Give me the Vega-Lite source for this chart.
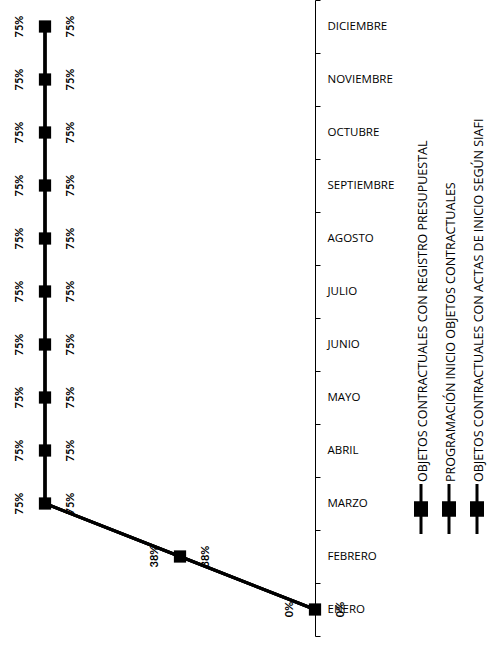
{
  "$schema": "https://vega.github.io/schema/vega-lite/v6.json",
  "width": 315,
  "height": 636,
  "autosize": "none",
  "padding": {"left": 0, "top": 0, "right": 172, "bottom": 10},
  "background": "white",
  "config": {"view": {"stroke": null}, "font": "Lato"},
  "data": {"values": [
    {"mes": "ENERO", "serie": "A", "valor": 0},
    {"mes": "FEBRERO", "serie": "A", "valor": 0.375},
    {"mes": "MARZO", "serie": "A", "valor": 0.75},
    {"mes": "ABRIL", "serie": "A", "valor": 0.75},
    {"mes": "MAYO", "serie": "A", "valor": 0.75},
    {"mes": "JUNIO", "serie": "A", "valor": 0.75},
    {"mes": "JULIO", "serie": "A", "valor": 0.75},
    {"mes": "AGOSTO", "serie": "A", "valor": 0.75},
    {"mes": "SEPTIEMBRE", "serie": "A", "valor": 0.75},
    {"mes": "OCTUBRE", "serie": "A", "valor": 0.75},
    {"mes": "NOVIEMBRE", "serie": "A", "valor": 0.75},
    {"mes": "DICIEMBRE", "serie": "A", "valor": 0.75},
    {"mes": "ENERO", "serie": "B", "valor": 0},
    {"mes": "FEBRERO", "serie": "B", "valor": 0.375},
    {"mes": "MARZO", "serie": "B", "valor": 0.75},
    {"mes": "ABRIL", "serie": "B", "valor": 0.75},
    {"mes": "MAYO", "serie": "B", "valor": 0.75},
    {"mes": "JUNIO", "serie": "B", "valor": 0.75},
    {"mes": "JULIO", "serie": "B", "valor": 0.75},
    {"mes": "AGOSTO", "serie": "B", "valor": 0.75},
    {"mes": "SEPTIEMBRE", "serie": "B", "valor": 0.75},
    {"mes": "OCTUBRE", "serie": "B", "valor": 0.75},
    {"mes": "NOVIEMBRE", "serie": "B", "valor": 0.75},
    {"mes": "DICIEMBRE", "serie": "B", "valor": 0.75},
    {"mes": "ENERO", "serie": "C", "valor": 0},
    {"mes": "FEBRERO", "serie": "C", "valor": 0.375},
    {"mes": "MARZO", "serie": "C", "valor": 0.75},
    {"mes": "ABRIL", "serie": "C", "valor": 0.75},
    {"mes": "MAYO", "serie": "C", "valor": 0.75},
    {"mes": "JUNIO", "serie": "C", "valor": 0.75},
    {"mes": "JULIO", "serie": "C", "valor": 0.75},
    {"mes": "AGOSTO", "serie": "C", "valor": 0.75},
    {"mes": "SEPTIEMBRE", "serie": "C", "valor": 0.75},
    {"mes": "OCTUBRE", "serie": "C", "valor": 0.75},
    {"mes": "NOVIEMBRE", "serie": "C", "valor": 0.75},
    {"mes": "DICIEMBRE", "serie": "C", "valor": 0.75}
  ]},
  "transform": [
    {"lookup": "serie", "from": {"data": {"values": [
      {"serie": "A", "nombre": "OBJETOS CONTRACTUALES CON REGISTRO PRESUPUESTAL"},
      {"serie": "B", "nombre": "PROGRAMACIÓN INICIO OBJETOS CONTRACTUALES"},
      {"serie": "C", "nombre": "OBJETOS CONTRACTUALES CON ACTAS DE INICIO SEGÚN  SIAFI"}
    ]}, "key": "serie", "fields": ["nombre"]}}
  ],
  "encoding": {
    "y": {
      "field": "mes", "type": "ordinal",
      "sort": ["DICIEMBRE", "NOVIEMBRE", "OCTUBRE", "SEPTIEMBRE", "AGOSTO", "JULIO", "JUNIO", "MAYO", "ABRIL", "MARZO", "FEBRERO", "ENERO"],
      "scale": {"type": "band", "paddingInner": 0, "paddingOuter": 0},
      "axis": {
        "orient": "right", "title": null, "domainColor": "black", "domainWidth": 1,
        "tickBand": "extent", "tickColor": "black", "tickSize": 5, "tickWidth": 1,
        "labelPadding": 7, "labelFont": "Open Sans", "labelFontSize": 11.5, "labelColor": "black", "labelAlign": "left"
      }
    },
    "x": {"field": "valor", "type": "quantitative", "scale": {"domain": [0, 0.875], "reverse": true}, "axis": null}
  },
  "layer": [
    {
      "mark": {"type": "line", "strokeWidth": 3},
      "encoding": {
        "stroke": {
          "field": "nombre", "type": "nominal",
          "scale": {"domain": ["OBJETOS CONTRACTUALES CON REGISTRO PRESUPUESTAL", "PROGRAMACIÓN INICIO OBJETOS CONTRACTUALES", "OBJETOS CONTRACTUALES CON ACTAS DE INICIO SEGÚN  SIAFI"], "range": ["black", "black", "black"]},
          "legend": {
            "orient": "none", "legendX": 407, "legendY": 495, "direction": "horizontal", "columns": 3,
            "title": null, "symbolType": "M0,-2V2M-0.44,-0.5H0.44V0.5H-0.44Z", "symbolSize": 625,
            "symbolStrokeWidth": 3, "symbolStrokeColor": "black", "symbolFillColor": "black",
            "labelLimit": 0, "labelFont": "Open Sans", "labelFontSize": 12.5, "labelColor": "black",
            "columnPadding": 2,
            "encode": {
              "symbols": {"update": {"fill": {"value": "black"}}},
              "labels": {"update": {"angle": {"value": -90}, "align": {"value": "left"}, "baseline": {"value": "middle"}, "dx": {"value": 27}, "dy": {"value": -16.5}}}
            }
          }
        }
      }
    },
    {
      "transform": [{"filter": "datum.serie == 'B'"}],
      "mark": {"type": "point", "shape": "square", "filled": true, "size": 150, "color": "black", "opacity": 1}
    },
    {
      "transform": [{"filter": "datum.serie == 'A'"}],
      "mark": {"type": "text", "angle": 270, "dy": -25, "fontSize": 11, "fontWeight": "bold", "font": "Lato", "color": "black", "align": "center", "baseline": "middle"},
      "encoding": {"text": {"field": "valor", "type": "quantitative", "format": ".0%"}}
    },
    {
      "transform": [{"filter": "datum.serie == 'B'"}],
      "mark": {"type": "text", "angle": 270, "dy": 26, "fontSize": 11, "fontWeight": "bold", "font": "Lato", "color": "black", "align": "center", "baseline": "middle"},
      "encoding": {"text": {"field": "valor", "type": "quantitative", "format": ".0%"}}
    }
  ]
}
